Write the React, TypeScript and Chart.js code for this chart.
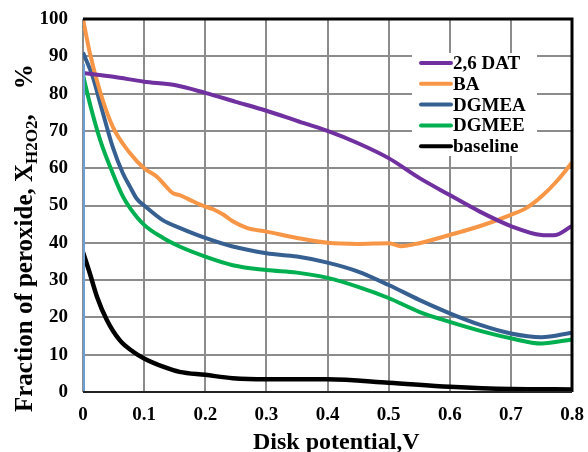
import React, { useEffect, useRef } from "react";
import { Chart, registerables } from "chart.js";

Chart.register(...registerables);

// ---------- data ----------
const seriesNames = ["2,6 DAT", "BA", "DGMEA", "DGMEE", "baseline"];
const seriesColors = ["#7030a0", "#f79646", "#376092", "#00b050", "#000000"];

const datX = [0, 0.05, 0.1, 0.15, 0.2, 0.25, 0.3, 0.35, 0.4, 0.45, 0.5, 0.55, 0.6, 0.65, 0.7, 0.75, 0.77, 0.8];
const datY = [85.5, 84.5, 83.2, 82.3, 80.2, 77.8, 75.4, 72.7, 70, 66.7, 62.7, 57.4, 52.8, 48.3, 44.5, 42.1, 42, 44.5];

const baX = [0, 0.011, 0.028, 0.049, 0.077, 0.1, 0.121, 0.131, 0.147, 0.158, 0.175, 0.2, 0.213, 0.23, 0.245, 0.268, 0.3, 0.35, 0.4, 0.45, 0.5, 0.52, 0.55, 0.6, 0.65, 0.7, 0.725, 0.75, 0.775, 0.8];
const baY = [100, 91, 80.5, 71, 64, 60, 57.7, 56, 53.3, 52.8, 51.5, 49.7, 49, 47.5, 45.8, 44, 43, 41.3, 40, 39.7, 39.9, 39.1, 39.9, 42.1, 44.5, 47.5, 49.3, 52.4, 56.5, 61.5];

const dgmeaX = [0, 0.016, 0.028, 0.049, 0.065, 0.077, 0.088, 0.1, 0.131, 0.158, 0.2, 0.245, 0.3, 0.35, 0.4, 0.45, 0.5, 0.55, 0.6, 0.65, 0.7, 0.75, 0.8];
const dgmeaY = [91, 84.5, 77.5, 65.5, 58.7, 55, 51.8, 50, 46, 44, 41.3, 39, 37.2, 36.3, 34.7, 32.3, 28.7, 24.7, 21.1, 18, 15.7, 14.7, 15.9];

const dgmeeX = [0, 0.011, 0.028, 0.049, 0.065, 0.077, 0.1, 0.131, 0.158, 0.2, 0.245, 0.3, 0.35, 0.4, 0.45, 0.5, 0.55, 0.6, 0.65, 0.7, 0.75, 0.8];
const dgmeeY = [85, 77.5, 67.6, 58.5, 52.5, 49.3, 44.8, 41.3, 39, 36.3, 34, 32.7, 32, 30.6, 28.2, 25.2, 21.5, 18.8, 16.4, 14.4, 13, 14.1];

const baseX = [0, 0.011, 0.023, 0.039, 0.06, 0.082, 0.1, 0.131, 0.158, 0.2, 0.245, 0.3, 0.4, 0.5, 0.6, 0.7, 0.8];
const baseY = [37.5, 31.9, 25.5, 19.3, 13.9, 10.8, 9, 6.8, 5.4, 4.6, 3.7, 3.4, 3.4, 2.5, 1.4, 0.8, 0.7];

const xTickLabels = ["0", "0.1", "0.2", "0.3", "0.4", "0.5", "0.6", "0.7", "0.8"];
const yTickLabels = ["0", "10", "20", "30", "40", "50", "60", "70", "80", "90", "100"];

const xTitle = "Disk potential,V";
const yTitleMain = "Fraction of peroxide, X";
const yTitleSub = "H2O2";
const yTitleEnd = ",    %";

const FONT = '"Liberation Serif", "Times New Roman", serif';

function pts(xs: number[], ys: number[]) {
  return xs.map((x, i) => ({ x, y: ys[i] }));
}

const seriesData = [
  pts(datX, datY),
  pts(baX, baY),
  pts(dgmeaX, dgmeaY),
  pts(dgmeeX, dgmeeY),
  pts(baseX, baseY),
];

const decorPlugin = {
  id: "decor",
  afterDatasetsDraw(chart: any) {
    const { ctx, chartArea, scales } = chart;
    const { left, right, top, bottom } = chartArea;
    ctx.save();
    // left light-blue axis segment
    ctx.strokeStyle = "#6a9fd8";
    ctx.lineWidth = 2;
    ctx.beginPath();
    ctx.moveTo(left + 1, bottom);
    ctx.lineTo(left + 1, scales.y.getPixelForValue(88));
    ctx.stroke();
    // top & right frame
    ctx.strokeStyle = "#000";
    ctx.lineWidth = 3;
    ctx.beginPath();
    ctx.moveTo(left, top);
    ctx.lineTo(right, top);
    ctx.lineTo(right, bottom);
    ctx.stroke();
    // bottom axis
    ctx.strokeStyle = "#222";
    ctx.lineWidth = 2;
    ctx.beginPath();
    ctx.moveTo(left, bottom);
    ctx.lineTo(right, bottom);
    ctx.stroke();

    // legend
    const bx = right - 160;
    const by = top + 34;
    ctx.fillStyle = "#fff";
    ctx.fillRect(bx, by, 125, 103);
    ctx.font = `bold 19px ${FONT}`;
    ctx.textBaseline = "middle";
    ctx.textAlign = "left";
    chart.data.datasets.forEach((ds: any, i: number) => {
      const yy = by + 10 + i * 20.8;
      ctx.strokeStyle = ds.borderColor;
      ctx.lineWidth = 4;
      ctx.lineCap = "round";
      ctx.beginPath();
      ctx.moveTo(bx + 9, yy);
      ctx.lineTo(bx + 39, yy);
      ctx.stroke();
      ctx.fillStyle = "#000";
      ctx.fillText(ds.label, bx + 41, yy + 1);
    });
    ctx.restore();
  },
  afterDraw(chart: any) {
    const { ctx } = chart;
    ctx.save();
    ctx.fillStyle = "#000";
    // x title
    ctx.font = `bold 24px ${FONT}`;
    ctx.textAlign = "left";
    ctx.textBaseline = "alphabetic";
    ctx.fillText(xTitle, 253, 449);
    // y title with subscript
    const big = `bold 25px ${FONT}`;
    const small = `bold 17px ${FONT}`;
    ctx.font = big;
    const w1 = ctx.measureText(yTitleMain).width;
    ctx.font = small;
    const w2 = ctx.measureText(yTitleSub).width;
    ctx.translate(32, 412);
    ctx.rotate(-Math.PI / 2);
    ctx.textAlign = "left";
    ctx.textBaseline = "alphabetic";
    let cx = 0;
    ctx.font = big;
    ctx.fillText(yTitleMain, cx, 0);
    cx += w1;
    ctx.font = small;
    ctx.fillText(yTitleSub, cx, 5);
    cx += w2;
    ctx.font = big;
    ctx.fillText(yTitleEnd, cx, 0);
    ctx.restore();
  },
};

export default function App() {
  const ref = useRef<HTMLCanvasElement | null>(null);
  useEffect(() => {
    if (!ref.current) return;
    const chart = new Chart(ref.current, {
      type: "line",
      data: {
        datasets: seriesNames.map((name, i) => ({
          label: name,
          data: seriesData[i],
          borderColor: seriesColors[i],
          backgroundColor: seriesColors[i],
          borderWidth: i === 4 ? 4.5 : 4,
          pointRadius: 0,
          fill: false,
          cubicInterpolationMode: "monotone" as const,
        })),
      },
      options: {
        responsive: false,
        animation: false,
        layout: { padding: { top: 19, right: 16, left: 0, bottom: 0 } },
        plugins: {
          legend: { display: false },
          tooltip: { enabled: false },
          title: { display: false },
        },
        scales: {
          x: {
            type: "linear",
            min: 0,
            max: 0.8,
            afterFit: (s: any) => {
              s.height = 60;
              s.paddingLeft = 0;
              s.paddingRight = 8;
            },
            afterBuildTicks: (s: any) => {
              s.ticks = xTickLabels.map((_, i) => ({ value: i / 10 }));
            },
            grid: { color: "#8c8c8c", lineWidth: 2, drawTicks: false },
            border: { display: false },
            ticks: {
              padding: 12,
              color: "#000",
              font: { family: FONT, size: 19, weight: "bold" },
              maxRotation: 0,
              autoSkip: false,
              callback: (_v: any, i: number) => xTickLabels[i],
            },
          },
          y: {
            type: "linear",
            min: 0,
            max: 100,
            afterFit: (s: any) => {
              s.width = 83;
              s.paddingTop = 8;
              s.paddingBottom = 8;
            },
            afterBuildTicks: (s: any) => {
              s.ticks = yTickLabels.map((t) => ({ value: Number(t) }));
            },
            grid: { color: "#8c8c8c", lineWidth: 2, drawTicks: false },
            border: { display: false },
            ticks: {
              padding: 15,
              color: "#000",
              font: { family: FONT, size: 19, weight: "bold" },
              autoSkip: false,
              callback: (_v: any, i: number) => yTickLabels[i],
            },
          },
        },
      },
      plugins: [decorPlugin],
    });
    return () => chart.destroy();
  }, []);
  return (
    <div style={{ position: "fixed", left: 0, top: 0, width: 588, height: 452, background: "#fff" }}>
      <canvas ref={ref} width={588} height={452} style={{ width: 588, height: 452, display: "block" }} />
    </div>
  );
}
